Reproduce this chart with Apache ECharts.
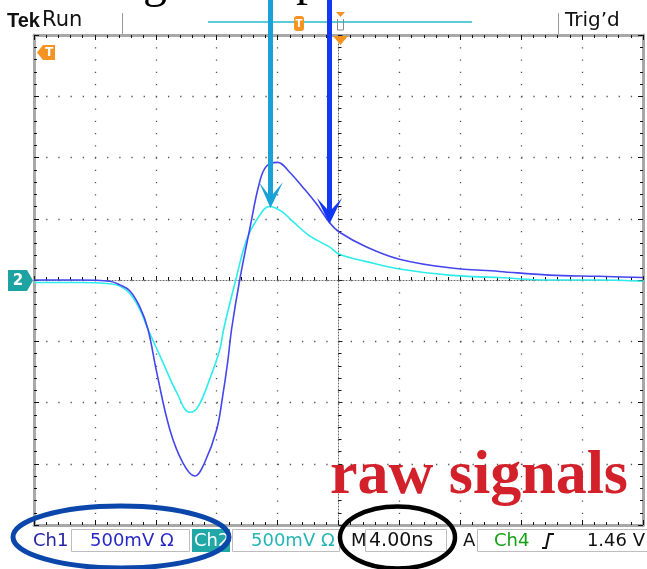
<!DOCTYPE html>
<html><head><meta charset="utf-8">
<script src="https://cdn.jsdelivr.net/npm/echarts@6/dist/echarts.min.js"></script>
<style>html,body{margin:0;padding:0;background:#fff}#c{width:647px;height:569px}</style>
</head><body><div id="c"></div>
<script>
// ---- data (time in ns, 4 ns/div; voltage in V, 500 mV/div) ----
const timeRange = [-20, 20];
const timeStep = 4;
const voltRange = [-2, 2];
const voltStep = 0.5;

const ch1Time  = [-20.0,-16.98,-15.02,-14.36,-13.70,-13.05,-12.52,-11.93,-11.08,-10.23,-9.44,-8.79,-8.00,-7.61,-7.28,-7.02,-6.49,-5.84,-5.18,-4.72,-4.00,-3.21,-2.36,-1.44,-0.59,0.07,1.84,4.00,7.28,10.56,13.84,17.11,20.0];
const ch1Volts = [0.00,0.00,-0.01,-0.04,-0.09,-0.22,-0.40,-0.76,-1.22,-1.49,-1.60,-1.49,-1.22,-0.95,-0.67,-0.40,0.00,0.41,0.80,0.93,0.96,0.88,0.76,0.62,0.47,0.39,0.27,0.17,0.10,0.07,0.04,0.03,0.02];

const ch2Time  = [-20.0,-16.98,-15.02,-14.36,-13.70,-13.05,-12.52,-11.54,-10.62,-9.77,-9.25,-8.46,-7.80,-7.54,-6.75,-6.03,-5.38,-4.52,-3.74,-3.02,-1.90,-0.59,0.07,1.84,4.00,7.28,10.56,13.84,17.11,20.0];
const ch2Volts = [-0.02,-0.02,-0.03,-0.05,-0.11,-0.24,-0.40,-0.67,-0.92,-1.08,-1.04,-0.81,-0.57,-0.40,0.00,0.33,0.49,0.60,0.56,0.48,0.36,0.27,0.21,0.15,0.09,0.04,0.02,0.00,0.00,-0.01];

const statusTexts = { ch1: 'Ch1', ch1Scale: '500mV Ω', ch2: 'Ch2', ch2Scale: '500mV Ω', timeBase: '4.00ns', trigSrc: 'Ch4', trigLevel: '1.46 V' };

// ---- build ----
const chart = echarts.init(document.getElementById('c'), null, {renderer: 'canvas'});
const F = '"DejaVu Sans", sans-serif';

function axisBase(extra) {
  return Object.assign({
    type: 'value', axisLabel: {show: false}, splitLine: {show: false},
    axisTick: {show: true, inside: true, length: 5, lineStyle: {color: '#111', width: 1}},
    minorTick: {show: true, splitNumber: 5, length: 3, lineStyle: {color: '#111', width: 1}},
    axisLine: {show: true, onZero: false, lineStyle: {color: '#a8a8a8', width: 3}}
  }, extra);
}
const xCommon = {min: timeRange[0], max: timeRange[1], interval: timeStep};
const yCommon = {min: voltRange[0], max: voltRange[1], interval: voltStep};

const G = [];
const T = (text, x, y, font, fill, align, z) => G.push({type: 'text', z: z || 100, style: {text, x, y, font, fill, align: align || 'left', verticalAlign: 'middle'}});
// top status line
T('Tek', 7, 21, 'bold 20px "Liberation Sans", sans-serif', '#111');
T('Run', 42, 21, '21px ' + F, '#111');
G.push({type: 'line', z: 100, shape: {x1: 122.5, y1: 13, x2: 122.5, y2: 34}, style: {stroke: '#999', lineWidth: 1}});
G.push({type: 'line', z: 100, shape: {x1: 558.5, y1: 13, x2: 558.5, y2: 34}, style: {stroke: '#999', lineWidth: 1}});
T('Trig’d', 565, 21, '20px ' + F, '#111');
G.push({type: 'line', z: 100, shape: {x1: 208, y1: 22, x2: 472, y2: 22}, style: {stroke: '#22b8c8', lineWidth: 1.5}});
G.push({type: 'rect', z: 101, shape: {x: 294, y: 16, width: 10, height: 15, r: 3}, style: {fill: '#f59322'}});
T('T', 299, 24, 'bold 10px ' + F, '#fff', 'center', 105);
G.push({type: 'polygon', z: 101, shape: {points: [[336, 12], [345, 12], [340.5, 17]]}, style: {fill: '#f59322'}});
G.push({type: 'polyline', z: 101, shape: {points: [[337.5, 19], [337.5, 30], [343.5, 30], [343.5, 19]]}, style: {stroke: '#888', lineWidth: 1, fill: null}});
G.push({type: 'polygon', z: 101, shape: {points: [[333, 36], [348, 36], [340.5, 45]]}, style: {fill: '#f59322'}});
// left markers
G.push({type: 'polygon', z: 101, shape: {points: [[37, 52.5], [43, 45], [55, 45], [55, 60], [43, 60]]}, style: {fill: '#f59322'}});
T('T', 49, 53, 'bold 12px ' + F, '#fff', 'center', 105);
G.push({type: 'polygon', z: 101, shape: {points: [[8, 270], [27, 270], [33, 280.5], [27, 291], [8, 291]]}, style: {fill: '#1ea3a3'}});
T('2', 18, 281, 'bold 15px ' + F, '#fff', 'center', 105);
// partially visible headline letters at the very top
T('g', 143, -16, '48px "Liberation Serif", serif', '#000');
T('p', 296, -18, '48px "Liberation Serif", serif', '#000');
// arrows
G.push({type: 'polygon', z: 102, shape: {points: [[268, 0], [268, 194], [259, 182], [270.5, 208], [283, 182], [273, 194], [273, 0]]}, style: {fill: '#1aa2d8'}});
G.push({type: 'polygon', z: 102, shape: {points: [[327, 0], [327, 209], [317, 198], [329.5, 224], [342, 198], [332, 209], [332, 0]]}, style: {fill: '#1238f5'}});
// bottom status line
const box = (x, w) => G.push({type: 'rect', z: 100, shape: {x: x, y: 529.5, width: w, height: 22}, style: {stroke: '#bdbdbd', fill: null, lineWidth: 1}});
T(statusTexts.ch1, 33, 541, '18px ' + F, '#2424a4');
box(71.5, 118);
T(statusTexts.ch1Scale, 90, 541, '18px ' + F, '#2828c8');
G.push({type: 'rect', z: 100, shape: {x: 192, y: 529, width: 38, height: 23}, style: {fill: '#22a7a7'}});
T(statusTexts.ch2, 194, 541, '18px ' + F, '#fff', 'left', 101);
box(232.5, 107);
T(statusTexts.ch2Scale, 251, 541, '18px ' + F, '#25b5b5');
T('M', 351, 541, '18px ' + F, '#111');
box(365.5, 81);
T(statusTexts.timeBase, 369, 541, '19px ' + F, '#111');
T('A', 463, 541, '18px ' + F, '#111');
box(477.5, 185);
T(statusTexts.trigSrc, 494, 541, '18px ' + F, '#15a015');
G.push({type: 'polyline', z: 101, shape: {points: [[542, 548], [546, 548], [549, 534], [554, 534]]}, style: {stroke: '#111', lineWidth: 2, fill: null}});
T(statusTexts.trigLevel, 645, 541, '18px ' + F, '#111', 'right');
// hand-drawn ellipses and label
G.push({type: 'ellipse', z: 103, shape: {cx: 121, cy: 537, rx: 108, ry: 31}, style: {stroke: '#0b46aa', lineWidth: 5, fill: null}});
G.push({type: 'ellipse', z: 103, shape: {cx: 397.5, cy: 537.5, rx: 57.5, ry: 31}, style: {stroke: '#000', lineWidth: 4.5, fill: null}});
T('raw signals', 330, 477, 'bold 62px "Liberation Serif", serif', '#d3212b');

chart.setOption({
  animation: false,
  backgroundColor: '#fff',
  grid: {left: 34, top: 35, right: 4, bottom: 44, containLabel: false},
  xAxis: [
    axisBase(Object.assign({position: 'bottom', splitLine: {show: true, lineStyle: {color: '#555', width: 1.3, type: [1.3, 10.95]}}}, xCommon)),
    axisBase(Object.assign({position: 'top'}, xCommon)),
    axisBase(Object.assign({position: 'bottom', axisLine: {show: true, onZero: true, lineStyle: {color: '#666', width: 1, type: [1, 2]}}, axisTick: {show: true, inside: true, length: 4, lineStyle: {color: '#222'}}}, xCommon))
  ],
  yAxis: [
    axisBase(Object.assign({position: 'left', splitLine: {show: true, lineStyle: {color: '#555', width: 1.3, type: [1.3, 10.88]}}}, yCommon)),
    axisBase(Object.assign({position: 'right'}, yCommon)),
    axisBase(Object.assign({position: 'left', axisLine: {show: true, onZero: true, lineStyle: {color: '#666', width: 1, type: [1, 2]}}, axisTick: {show: true, inside: true, length: 4, lineStyle: {color: '#222'}}}, yCommon))
  ],
  series: [
    {name: 'Ch2', type: 'line', xAxisIndex: 0, yAxisIndex: 0, showSymbol: false, smooth: 0.4, sampling: null,
     data: ch2Time.map((t, i) => [t, ch2Volts[i]]), lineStyle: {color: '#2cecec', width: 1.6}, z: 5},
    {name: 'Ch1', type: 'line', xAxisIndex: 0, yAxisIndex: 0, showSymbol: false, smooth: 0.4, sampling: null,
     data: ch1Time.map((t, i) => [t, ch1Volts[i]]), lineStyle: {color: '#4646ee', width: 1.6}, z: 6}
  ],
  graphic: G
});
</script></body></html>
